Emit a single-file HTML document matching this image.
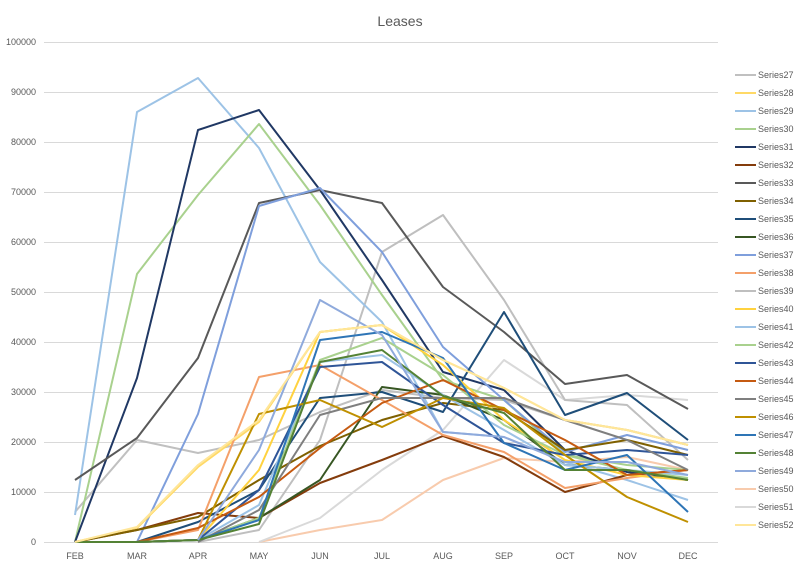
<!DOCTYPE html>
<html><head><meta charset="utf-8"><style>
body{margin:0;background:#fff;}
svg{display:block;font-family:"Liberation Sans",sans-serif;}
</style></head><body>
<svg width="794" height="564" viewBox="0 0 794 564">
<rect width="794" height="564" fill="#fff"/>
<text x="400" y="26" font-size="14" fill="#595959" text-anchor="middle">Leases</text>
<g stroke="#d9d9d9" stroke-width="1">
<line x1="44" x2="718" y1="42.5" y2="42.5"/><line x1="44" x2="718" y1="92.5" y2="92.5"/>
<line x1="44" x2="718" y1="142.5" y2="142.5"/><line x1="44" x2="718" y1="192.5" y2="192.5"/>
<line x1="44" x2="718" y1="242.5" y2="242.5"/><line x1="44" x2="718" y1="292.5" y2="292.5"/>
<line x1="44" x2="718" y1="342.5" y2="342.5"/><line x1="44" x2="718" y1="392.5" y2="392.5"/>
<line x1="44" x2="718" y1="442.5" y2="442.5"/><line x1="44" x2="718" y1="492.5" y2="492.5"/>
<line x1="44" x2="718" y1="542.5" y2="542.5"/>
</g>
<g font-size="9" fill="#595959" text-anchor="end">
<text x="36" y="45">100000</text><text x="36" y="95">90000</text><text x="36" y="145">80000</text>
<text x="36" y="195">70000</text><text x="36" y="245">60000</text><text x="36" y="295">50000</text>
<text x="36" y="345">40000</text><text x="36" y="395">30000</text><text x="36" y="445">20000</text>
<text x="36" y="495">10000</text><text x="36" y="545">0</text>
</g>
<g font-size="9" fill="#595959" text-anchor="middle">
<text x="75" y="559">FEB</text><text x="137" y="559">MAR</text><text x="198" y="559">APR</text>
<text x="259" y="559">MAY</text><text x="320" y="559">JUN</text><text x="382" y="559">JUL</text>
<text x="443" y="559">AUG</text><text x="504" y="559">SEP</text><text x="565" y="559">OCT</text>
<text x="627" y="559">NOV</text><text x="688" y="559">DEC</text>
</g>
<g fill="none" stroke-width="2" stroke-linejoin="round">
<polyline stroke="#f8cbad" points="259,542 320,530 382,520 443,480 504,458 565,462 627,457 688,470"/>
<polyline stroke="#d9d9d9" points="259,542 320,518 382,470 443,430 504,360 565,400 627,395 688,400"/>
<polyline stroke="#c0c0c0" points="75,512 137,440 198,453 259,440 320,412 382,390 443,398 504,400 565,420 627,430 688,445"/>
<polyline stroke="#bfbfbf" points="198,542 259,530 320,440 382,252 443,215 504,300 565,400 627,405 688,460"/>
<polyline stroke="#9dc3e6" points="75,515 137,112 198,78 259,148 320,262 382,322 443,432 504,437 565,462 627,480 688,500"/>
<polyline stroke="#a9d18e" points="75,542 137,274 198,195 259,124 320,205 382,295 443,380 504,400 565,455 627,465 688,470"/>
<polyline stroke="#203864" points="75,542 137,378 198,130 259,110 320,190 382,280 443,372 504,390 565,450 627,472 688,480"/>
<polyline stroke="#595959" points="75,480 137,438 198,358 259,203 320,190 382,203 443,287 504,332 565,384 627,375 688,409"/>
<polyline stroke="#7f9fdc" points="137,542 198,414 259,206 320,188 382,252 443,347 504,400 565,452 627,435 688,450"/>
<polyline stroke="#ffd966" points="75,542 137,528 198,467 259,422 320,332 382,325 443,360 504,388 565,420 627,430 688,445"/>
<polyline stroke="#843c0c" points="75,542 137,530 198,513 259,518 320,483 382,460 443,436 504,457 565,492 627,475 688,470"/>
<polyline stroke="#7f6000" points="75,542 137,530 198,517 259,480 320,446 382,420 443,403 504,410 565,450 627,440 688,455"/>
<polyline stroke="#1f4e79" points="75,542 137,542 198,522 259,490 320,398 382,392 443,412 504,312 565,415 627,393 688,440"/>
<polyline stroke="#375623" points="75,542 137,542 198,540 259,518 320,480 382,387 443,395 504,420 565,465 627,470 688,480"/>
<polyline stroke="#f4a06a" points="75,542 137,542 198,530 259,377 320,365 382,400 443,435 504,452 565,488 627,478 688,470"/>
<polyline stroke="#ffd23f" points="75,542 137,542 198,540 259,470 320,332 382,325 443,365 504,420 565,460 627,475 688,480"/>
<polyline stroke="#9dc3e6" points="75,542 137,542 198,540 259,505 320,362 382,355 443,395 504,430 565,465 627,470 688,475"/>
<polyline stroke="#a9d18e" points="75,542 137,542 198,540 259,518 320,360 382,338 443,375 504,425 565,455 627,470 688,478"/>
<polyline stroke="#2f5597" points="75,542 137,542 198,540 259,490 320,367 382,362 443,405 504,443 565,455 627,450 688,455"/>
<polyline stroke="#c55a11" points="75,542 137,542 198,528 259,497 320,448 382,403 443,380 504,410 565,440 627,475 688,470"/>
<polyline stroke="#7f7f7f" points="198,542 259,510 320,415 382,398 443,398 504,398 565,420 627,440 688,470"/>
<polyline stroke="#bf9000" points="75,542 137,542 198,540 259,414 320,400 382,427 443,398 504,408 565,455 627,497 688,522"/>
<polyline stroke="#2e75b6" points="75,542 137,542 198,540 259,520 320,340 382,332 443,358 504,443 565,470 627,455 688,512"/>
<polyline stroke="#548235" points="75,542 137,542 198,540 259,524 320,362 382,350 443,396 504,413 565,470 627,470 688,480"/>
<polyline stroke="#8faadc" points="198,540 259,450 320,300 382,335 443,432 504,437 565,462 627,462 688,475"/>
<polyline stroke="#ffe699" points="75,542 137,527 198,465 259,420 320,332 382,325 443,360 504,388 565,420 627,430 688,445"/>
</g>
<g font-size="9" fill="#595959" stroke-width="2">
<g id="lg"></g>
</g>
<g stroke-width="2">
<line x1="735" x2="756" y1="75" y2="75" stroke="#c0c0c0"/>
<line x1="735" x2="756" y1="93" y2="93" stroke="#ffd966"/>
<line x1="735" x2="756" y1="111" y2="111" stroke="#9dc3e6"/>
<line x1="735" x2="756" y1="129" y2="129" stroke="#a9d18e"/>
<line x1="735" x2="756" y1="147" y2="147" stroke="#203864"/>
<line x1="735" x2="756" y1="165" y2="165" stroke="#843c0c"/>
<line x1="735" x2="756" y1="183" y2="183" stroke="#595959"/>
<line x1="735" x2="756" y1="201" y2="201" stroke="#7f6000"/>
<line x1="735" x2="756" y1="219" y2="219" stroke="#1f4e79"/>
<line x1="735" x2="756" y1="237" y2="237" stroke="#375623"/>
<line x1="735" x2="756" y1="255" y2="255" stroke="#7f9fdc"/>
<line x1="735" x2="756" y1="273" y2="273" stroke="#f4a06a"/>
<line x1="735" x2="756" y1="291" y2="291" stroke="#bfbfbf"/>
<line x1="735" x2="756" y1="309" y2="309" stroke="#ffd23f"/>
<line x1="735" x2="756" y1="327" y2="327" stroke="#9dc3e6"/>
<line x1="735" x2="756" y1="345" y2="345" stroke="#a9d18e"/>
<line x1="735" x2="756" y1="363" y2="363" stroke="#2f5597"/>
<line x1="735" x2="756" y1="381" y2="381" stroke="#c55a11"/>
<line x1="735" x2="756" y1="399" y2="399" stroke="#7f7f7f"/>
<line x1="735" x2="756" y1="417" y2="417" stroke="#bf9000"/>
<line x1="735" x2="756" y1="435" y2="435" stroke="#2e75b6"/>
<line x1="735" x2="756" y1="453" y2="453" stroke="#548235"/>
<line x1="735" x2="756" y1="471" y2="471" stroke="#8faadc"/>
<line x1="735" x2="756" y1="489" y2="489" stroke="#f8cbad"/>
<line x1="735" x2="756" y1="507" y2="507" stroke="#d9d9d9"/>
<line x1="735" x2="756" y1="525" y2="525" stroke="#ffe699"/>
</g>
<g font-size="9" fill="#595959">
<text x="758" y="78">Series27</text><text x="758" y="96">Series28</text><text x="758" y="114">Series29</text>
<text x="758" y="132">Series30</text><text x="758" y="150">Series31</text><text x="758" y="168">Series32</text>
<text x="758" y="186">Series33</text><text x="758" y="204">Series34</text><text x="758" y="222">Series35</text>
<text x="758" y="240">Series36</text><text x="758" y="258">Series37</text><text x="758" y="276">Series38</text>
<text x="758" y="294">Series39</text><text x="758" y="312">Series40</text><text x="758" y="330">Series41</text>
<text x="758" y="348">Series42</text><text x="758" y="366">Series43</text><text x="758" y="384">Series44</text>
<text x="758" y="402">Series45</text><text x="758" y="420">Series46</text><text x="758" y="438">Series47</text>
<text x="758" y="456">Series48</text><text x="758" y="474">Series49</text><text x="758" y="492">Series50</text>
<text x="758" y="510">Series51</text><text x="758" y="528">Series52</text>
</g>
</svg>
</body></html>
